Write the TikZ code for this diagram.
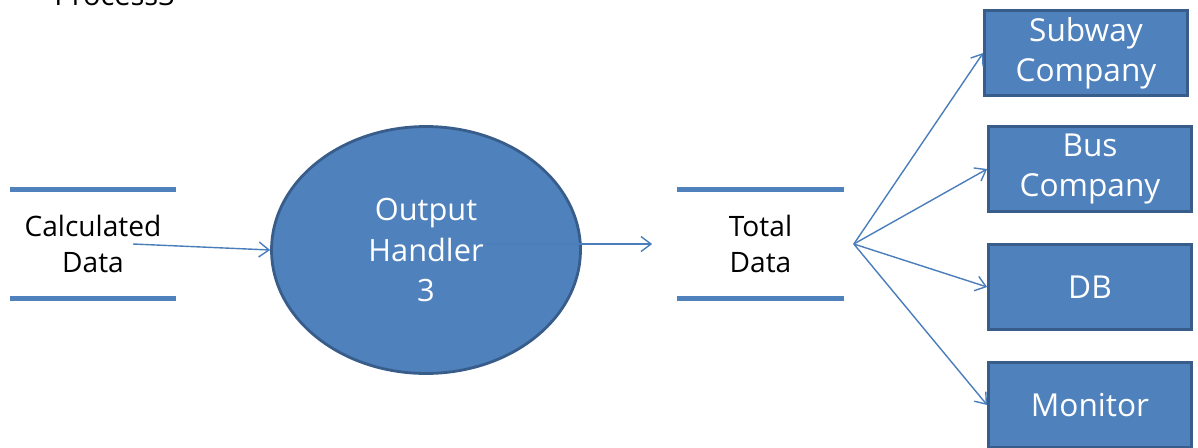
\documentclass[tikz,border=0pt]{standalone}
\usepackage{fontspec}
\setmainfont{Open Sans}
\usetikzlibrary{shapes,arrows.meta,positioning,calc}
\definecolor{ofblue}{HTML}{4F81BD}
\definecolor{ofborder}{HTML}{385D8A}
\definecolor{ofline}{HTML}{4A7EBB}

\begin{document}
\begin{tikzpicture}[
    x=0.02cm, y=-0.02cm,
    >={Straight Barb[length=0.2cm,width=0.3cm]},
    process/.style={ellipse, draw=ofborder, fill=ofblue, line width=1.6pt, minimum width=6.18cm, minimum height=4.94cm, text=white, align=center, font=\fontsize{17.5}{23.3}\selectfont},
    store/.style={minimum width=3.32cm, minimum height=2.16cm, align=center, font=\fontsize{16}{21}\selectfont},
    storeline/.style={ofblue, line width=2.8pt},
    entity/.style={rectangle, draw=ofborder, fill=ofblue, line width=1.6pt, minimum width=4.06cm, minimum height=1.7cm, text=white, align=center, font=\fontsize{18}{22.7}\selectfont},
    flow/.style={->, ofline, line width=0.8pt}
]
\useasboundingbox (0,0) rectangle (1198,447);

% Title (cut at the top)
\node[anchor=base west, inner sep=0pt, font=\fontsize{16.5}{20}\selectfont] (title) at (54,5) {Process3};

% Process
\node[process] (handler) at (426,250) {Output\\Handler\\3};

% Data stores
\node[store] (calc) at (93,244) {Calculated\\Data};
\draw[storeline] (calc.north west) -- (calc.north east);
\draw[storeline] (calc.south west) -- (calc.south east);

\node[store] (total) at (760.5,244) {Total\\Data};
\draw[storeline] (total.north west) -- (total.north east);
\draw[storeline] (total.south west) -- (total.south east);

% Sinks
\node[entity] (subway) at (1086,53) {Subway\\Company};
\node[entity] (bus) at (1090,169) {Bus\\Company};
\node[entity] (db) at (1090,287) {DB};
\node[entity] (monitor) at (1090,405) {Monitor};

% Flows
\coordinate (calcout) at ($(calc.center)+(40,0)$);
\coordinate (handlerout) at ($(handler.center)+(61,-6)$);
\coordinate (totalin) at ($(total.west)+(-25,0)$);
\coordinate (fan) at ($(total.east)+(10,0)$);

\draw[flow] (calcout) -- (handler.west);
\draw[flow] (handlerout) -- (totalin);
\foreach \sink in {subway,bus,db,monitor}
    \draw[flow] (fan) -- (\sink.west);

\end{tikzpicture}
\end{document}
